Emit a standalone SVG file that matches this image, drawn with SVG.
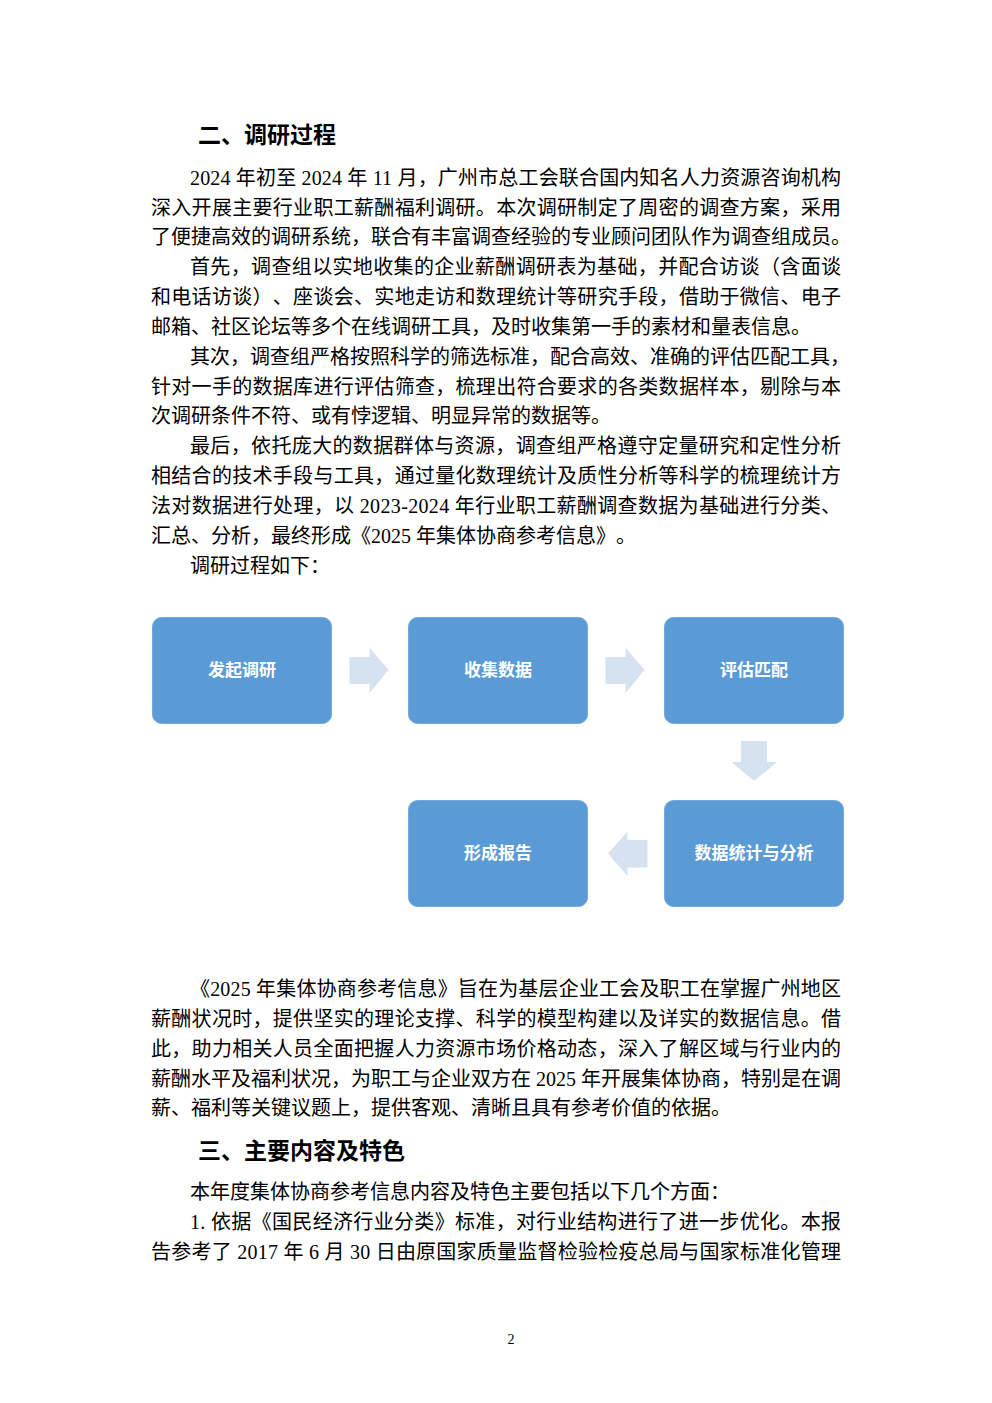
<svg xmlns="http://www.w3.org/2000/svg" width="992" height="1403" viewBox="0 0 992 1403">
<style>
text{text-spacing-trim:space-all}
.b{font-family:"Liberation Serif","Noto Sans CJK SC",serif;font-size:20px;fill:#000}
.h{font-family:"Noto Sans CJK SC",sans-serif;font-size:23px;font-weight:700;fill:#000}
.box{fill:#5B9BD5;stroke:#72A9DC;stroke-width:1}
.bt{font-family:"Noto Sans CJK SC",sans-serif;font-size:17px;font-weight:700;fill:#fff;text-anchor:middle}
.ar{fill:#D6E2F0}
.pn{font-family:"Liberation Serif",serif;font-size:14px;fill:#000;text-anchor:middle}
</style>
<rect width="992" height="1403" fill="#fff"/>
<g id="text">
<text class="h" x="198" y="143">二、调研过程</text>
<text class="b" x="190" y="185" textLength="651" lengthAdjust="spacing">2024 年初至 2024 年 11 月，广州市总工会联合国内知名人力资源咨询机构</text>
<text class="b" x="151" y="215" textLength="690" lengthAdjust="spacing">深入开展主要行业职工薪酬福利调研。本次调研制定了周密的调查方案，采用</text>
<text class="b" x="151" y="244">了便捷高效的调研系统，联合有丰富调查经验的专业顾问团队作为调查组成员。</text>
<text class="b" x="190" y="274" textLength="651" lengthAdjust="spacing">首先，调查组以实地收集的企业薪酬调研表为基础，并配合访谈（含面谈</text>
<text class="b" x="151" y="304" textLength="690" lengthAdjust="spacing">和电话访谈）、座谈会、实地走访和数理统计等研究手段，借助于微信、电子</text>
<text class="b" x="151" y="334">邮箱、社区论坛等多个在线调研工具，及时收集第一手的素材和量表信息。</text>
<text class="b" x="190" y="364">其次，调查组严格按照科学的筛选标准，配合高效、准确的评估匹配工具，</text>
<text class="b" x="151" y="394" textLength="690" lengthAdjust="spacing">针对一手的数据库进行评估筛查，梳理出符合要求的各类数据样本，剔除与本</text>
<text class="b" x="151" y="423">次调研条件不符、或有悖逻辑、明显异常的数据等。</text>
<text class="b" x="190" y="453" textLength="651" lengthAdjust="spacing">最后，依托庞大的数据群体与资源，调查组严格遵守定量研究和定性分析</text>
<text class="b" x="151" y="483" textLength="690" lengthAdjust="spacing">相结合的技术手段与工具，通过量化数理统计及质性分析等科学的梳理统计方</text>
<text class="b" x="151" y="513" textLength="690" lengthAdjust="spacing">法对数据进行处理，以 2023-2024 年行业职工薪酬调查数据为基础进行分类、</text>
<text class="b" x="151" y="543">汇总、分析，最终形成《2025 年集体协商参考信息》。</text>
<text class="b" x="190" y="573">调研过程如下：</text>
<text class="b" x="190" y="996" textLength="651" lengthAdjust="spacing">《2025 年集体协商参考信息》旨在为基层企业工会及职工在掌握广州地区</text>
<text class="b" x="151" y="1026" textLength="690" lengthAdjust="spacing">薪酬状况时，提供坚实的理论支撑、科学的模型构建以及详实的数据信息。借</text>
<text class="b" x="151" y="1056" textLength="690" lengthAdjust="spacing">此，助力相关人员全面把握人力资源市场价格动态，深入了解区域与行业内的</text>
<text class="b" x="151" y="1086" textLength="690" lengthAdjust="spacing">薪酬水平及福利状况，为职工与企业双方在 2025 年开展集体协商，特别是在调</text>
<text class="b" x="151" y="1115">薪、福利等关键议题上，提供客观、清晰且具有参考价值的依据。</text>
<text class="h" x="198" y="1159">三、主要内容及特色</text>
<text class="b" x="190" y="1199">本年度集体协商参考信息内容及特色主要包括以下几个方面：</text>
<text class="b" x="190" y="1229" textLength="651" lengthAdjust="spacing">1. 依据《国民经济行业分类》标准，对行业结构进行了进一步优化。本报</text>
<text class="b" x="151" y="1259" textLength="690" lengthAdjust="spacing">告参考了 2017 年 6 月 30 日由原国家质量监督检验检疫总局与国家标准化管理</text>
<text class="pn" x="511" y="1344">2</text>
</g>
<g id="connectors">
<polygon class="ar" points="349.5,657 369.5,657 369.5,647.5 388.5,670 369.5,693 369.5,684 349.5,684"/>
<polygon class="ar" points="605.5,657 625.5,657 625.5,647.5 644.5,670 625.5,693 625.5,684 605.5,684"/>
<polygon class="ar" points="741,741 767,741 767,762 777,762 754,781 731.5,762 741,762"/>
<polygon class="ar" points="647.5,840 627.5,840 627.5,831.5 608,853.5 627.5,876 627.5,867.5 647.5,867.5"/>
</g>
<g id="node1">
<rect class="box" x="152.5" y="617.5" width="179" height="106" rx="9"/>
<text class="bt" x="242" y="676">发起调研</text>
</g>
<g id="node2">
<rect class="box" x="408.5" y="617.5" width="179" height="106" rx="9"/>
<text class="bt" x="498" y="676">收集数据</text>
</g>
<g id="node3">
<rect class="box" x="664.5" y="617.5" width="179" height="106" rx="9"/>
<text class="bt" x="754" y="676">评估匹配</text>
</g>
<g id="node4">
<rect class="box" x="664.5" y="800.5" width="179" height="106" rx="9"/>
<text class="bt" x="754" y="859">数据统计与分析</text>
</g>
<g id="node5">
<rect class="box" x="408.5" y="800.5" width="179" height="106" rx="9"/>
<text class="bt" x="498" y="859">形成报告</text>
</g>
</svg>
